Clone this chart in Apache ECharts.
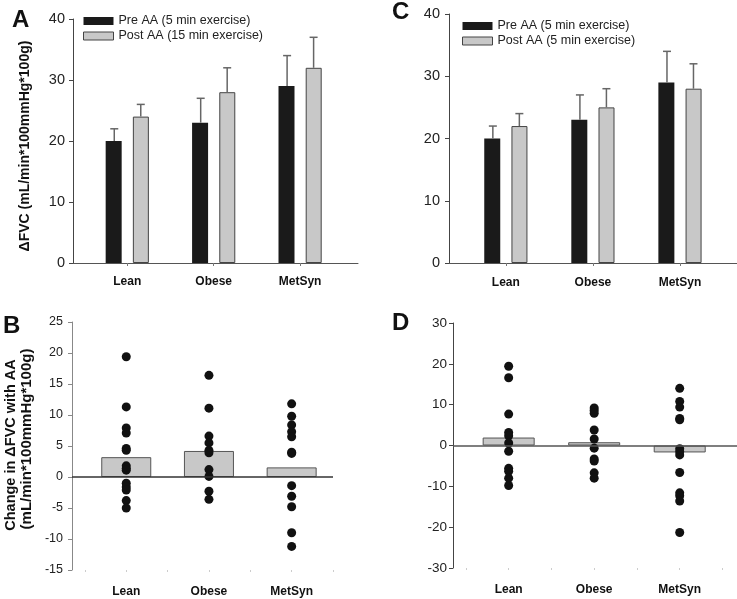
<!DOCTYPE html>
<html><head><meta charset="utf-8">
<script src="https://cdn.jsdelivr.net/npm/echarts@6/dist/echarts.min.js"></script>
<style>html,body{margin:0;padding:0;background:#fff}#c{width:737px;height:599px}</style>
</head><body><div id="c"></div>
<script>
// ---------- data ----------
const categories = ['Lean', 'Obese', 'MetSyn'];
const legendA = ['Pre AA (5 min exercise)', 'Post AA (15 min exercise)'];
const legendC = ['Pre AA (5 min exercise)', 'Post AA (5 min exercise)'];
const preA = [20, 23, 29];
const preAErr = [22, 27, 34];
const postA = [24, 28, 32];
const postAErr = [26, 32, 37];
const preC = [20, 23, 29];
const preCErr = [22, 27, 34];
const postC = [22, 25, 28];
const postCErr = [24, 28, 32];
const meanB = [3.2, 4.2, 1.55];
const dotsBLean = [19.4, 11.3, 7.9, 7.1, 4.6, 4.3, 1.8, 1.4, 1.1, -1.0, -1.6, -2.1, -3.8, -5.0];
const dotsBObese = [16.4, 11.1, 6.6, 5.5, 4.3, 3.9, 1.2, 0.1, -2.3, -3.6];
const dotsBMetSyn = [11.8, 9.8, 8.4, 7.3, 6.5, 4.0, 3.8, -1.4, -3.1, -4.8, -9.0, -11.2];
const meanD = [1.95, 0.8, -1.7];
const dotsDLean = [19.4, 16.6, 7.7, 3.2, 2.4, 0.6, -1.4, -5.6, -6.3, -8.0, -9.8];
const dotsDObese = [9.2, 8.6, 7.9, 3.8, 1.6, -0.65, -3.3, -3.8, -6.7, -8.0];
const dotsDMetSyn = [14.0, 10.8, 9.4, 6.6, 6.3, -0.8, -1.5, -2.3, -6.6, -11.6, -12.3, -13.6, -21.3];
const yTicksA = [0, 10, 20, 30, 40];
const yTicksB = [-15, -10, -5, 0, 5, 10, 15, 20, 25];
const yTicksC = [0, 10, 20, 30, 40];
const yTicksD = [-30, -20, -10, 0, 10, 20, 30];
const titleA = 'ΔFVC (mL/min*100mmHg*100g)';
const titleB1 = 'Change in ΔFVC with AA';
const titleB2 = '(mL/min*100mmHg*100g)';

// ---------- helpers ----------
const FONT = 'Arial, "Liberation Sans", sans-serif';
const catPos = categories.map((c, i) => i + 1);
const halfPos = [];
for (let i = 0; i <= categories.length; i++) { halfPos.push(i + 0.5); if (i < categories.length) halfPos.push(i + 1); }

function xAxisDef(gi, min, max, bar, margin) {
  return {
    type: 'value', gridIndex: gi, min, max,
    splitLine: { show: false },
    axisLine: { show: bar, onZero: false, lineStyle: { color: '#555', width: 1 } },
    axisTick: bar
      ? { show: true, customValues: catPos, length: 3, lineStyle: { color: '#777' } }
      : { show: true, customValues: halfPos, length: 2, lineStyle: { color: '#ccc' } },
    axisLabel: {
      customValues: catPos, margin,
      formatter: v => categories[Math.round(v) - 1] || '',
      fontFamily: FONT, fontWeight: 'bold', fontSize: 12, color: '#111'
    }
  };
}
function yAxisDef(gi, ticks, color, fs, margin) {
  return {
    type: 'value', gridIndex: gi, min: ticks[0], max: ticks[ticks.length - 1],
    interval: ticks[1] - ticks[0],
    splitLine: { show: false },
    axisLine: { show: true, lineStyle: { color, width: 1 } },
    axisTick: { show: true, length: 4, lineStyle: { color } },
    axisLabel: { fontFamily: FONT, fontSize: fs, color: '#222', margin }
  };
}
function barSeries(name, gi, vals, color, border) {
  return {
    type: 'bar', name, xAxisIndex: gi, yAxisIndex: gi,
    data: vals.map((v, i) => [catPos[i], v]),
    barWidth: 16, barGap: '70%',
    itemStyle: { color, borderColor: border, borderWidth: border ? 1 : 0 },
    silent: true, z: 2
  };
}
function errSeries(name, gi, means, tops, dx) {
  return {
    type: 'custom', name, xAxisIndex: gi, yAxisIndex: gi, silent: true, z: 3,
    data: means.map((m, i) => [catPos[i], m, tops[i]]),
    renderItem(params, api) {
      const b = api.coord([api.value(0), api.value(1)]);
      const t = api.coord([api.value(0), api.value(2)]);
      const x = b[0] + dx;
      const st = { stroke: '#666', lineWidth: 1.5 };
      return { type: 'group', children: [
        { type: 'line', shape: { x1: x, y1: b[1], x2: x, y2: t[1] }, style: st },
        { type: 'line', shape: { x1: x - 4, y1: t[1], x2: x + 4, y2: t[1] }, style: st }
      ]};
    }
  };
}
function meanBar(gi, vals, w, zeroColor) {
  return {
    type: 'bar', name: 'mean' + gi, xAxisIndex: gi, yAxisIndex: gi,
    data: vals.map((v, i) => [catPos[i], v]), barWidth: w,
    itemStyle: { color: '#c8c8c8', borderColor: '#555', borderWidth: 1 },
    silent: true, z: 2,
    markLine: {
      silent: true, symbol: 'none', label: { show: false },
      lineStyle: { color: zeroColor, width: 1.5, type: 'solid' },
      data: [{ yAxis: 0 }]
    }
  };
}
function dotSeries(gi, groups) {
  const data = [];
  groups.forEach((g, i) => g.forEach(v => data.push([catPos[i], v])));
  return {
    type: 'scatter', name: 'dots' + gi, xAxisIndex: gi, yAxisIndex: gi,
    data, symbolSize: 9, itemStyle: { color: '#111', opacity: 1 }, silent: true, z: 4
  };
}
function legendDef(names, left, top) {
  return {
    orient: 'vertical', left, top, itemWidth: 30, itemHeight: 8, itemGap: 1,
    selectedMode: false,
    textStyle: { fontFamily: FONT, fontSize: 12.5, color: '#222', lineHeight: 14 },
    data: [
      { name: names[0], icon: 'rect', itemStyle: { color: '#1a1a1a', borderWidth: 0 } },
      { name: names[1], icon: 'rect', itemStyle: { color: '#c8c8c8', borderColor: '#444', borderWidth: 1 } }
    ]
  };
}
function letter(t, x, y) {
  return { type: 'text', x, y, style: { text: t, font: 'bold 24px ' + FONT, fill: '#111', textVerticalAlign: 'top' } };
}
function vtext(t, x, y, size, align) {
  return { type: 'text', x, y, rotation: Math.PI / 2,
    style: { text: t, font: 'bold ' + size + 'px ' + FONT, fill: '#111', textAlign: align, textVerticalAlign: 'middle' } };
}

const option = {
  animation: false,
  backgroundColor: '#fff',
  grid: [
    { left: 73, top: 19, width: 285, height: 244 },   // A
    { left: 72, top: 322, width: 261, height: 248 },  // B
    { left: 449, top: 14, width: 288, height: 249 },  // C
    { left: 453, top: 323, width: 284, height: 245 }  // D
  ],
  xAxis: [
    xAxisDef(0, 0.372, 3.67, true, 13),
    xAxisDef(1, 0.344, 3.5, false, 16),
    xAxisDef(2, 0.347, 3.655, true, 14),
    xAxisDef(3, 0.349, 3.67, false, 16)
  ],
  yAxis: [
    yAxisDef(0, yTicksA, '#444', 14.5, 8),
    yAxisDef(1, yTicksB, '#888', 12.5, 9),
    yAxisDef(2, yTicksC, '#444', 14.5, 9),
    yAxisDef(3, yTicksD, '#444', 13.5, 6)
  ],
  legend: [legendDef(legendA, 78, 9), legendDef(legendC, 457, 14)],
  series: [
    barSeries(legendA[0], 0, preA, '#1a1a1a', null),
    barSeries(legendA[1], 0, postA, '#c8c8c8', '#444'),
    errSeries('errPreA', 0, preA, preAErr, -13),
    errSeries('errPostA', 0, postA, postAErr, 13.5),
    barSeries(legendC[0], 2, preC, '#1a1a1a', null),
    barSeries(legendC[1], 2, postC, '#c8c8c8', '#444'),
    errSeries('errPreC', 2, preC, preCErr, -13),
    errSeries('errPostC', 2, postC, postCErr, 13.5),
    meanBar(1, meanB, 50, '#333'),
    dotSeries(1, [dotsBLean, dotsBObese, dotsBMetSyn]),
    meanBar(3, meanD, 52, '#555'),
    dotSeries(3, [dotsDLean, dotsDObese, dotsDMetSyn])
  ],
  graphic: [
    letter('A', 12, 8),
    letter('C', 392, 0),
    letter('B', 3, 314),
    letter('D', 392, 311),
    vtext(titleA, 25, 146, 14, 'center'),
    vtext(titleB1, 11, 445, 14.5, 'center'),
    vtext(titleB2, 27, 439, 15, 'center')
  ]
};
const chart = echarts.init(document.getElementById('c'), null, { renderer: 'canvas' });
chart.setOption(option);
</script></body></html>
